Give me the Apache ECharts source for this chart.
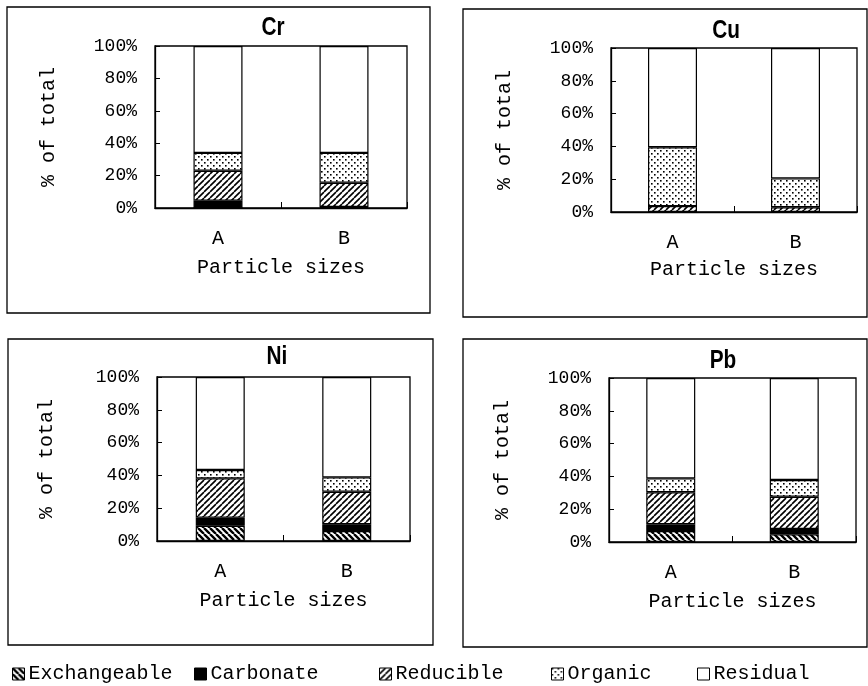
<!DOCTYPE html>
<html>
<head>
<meta charset="utf-8">
<script src="https://cdn.jsdelivr.net/npm/echarts@6/dist/echarts.min.js"></script>
<style>
html,body{margin:0;padding:0;background:#fff;}
#chart{width:868px;height:686px;}
</style>
</head>
<body>
<div id="chart"></div>
<script>
// ---------- data ----------
const categories = ['A', 'B'];
const fractionNames = ['Exchangeable', 'Carbonate', 'Reducible', 'Organic', 'Residual'];
const yTicks = [0, 20, 40, 60, 80, 100];
const panelTitles = ['Cr', 'Cu', 'Ni', 'Pb'];

const crExchangeable = [0, 0];
const crCarbonate    = [4.5, 0.6];
const crReducible    = [18.5, 15.0];
const crOrganic      = [11.0, 18.4];
const crResidual     = [66.0, 66.0];

const cuExchangeable = [0, 0];
const cuCarbonate    = [0, 0];
const cuReducible    = [3.6, 2.9];
const cuOrganic      = [35.9, 17.6];
const cuResidual     = [60.5, 79.5];

const niExchangeable = [9.3, 6.1];
const niCarbonate    = [4.9, 4.1];
const niReducible    = [24.0, 19.8];
const niOrganic      = [5.1, 8.8];
const niResidual     = [56.7, 61.2];

const pbExchangeable = [6.7, 4.7];
const pbCarbonate    = [4.1, 3.2];
const pbReducible    = [19.5, 19.7];
const pbOrganic      = [8.5, 10.2];
const pbResidual     = [61.2, 62.2];

const panelData = [
  [crExchangeable, crCarbonate, crReducible, crOrganic, crResidual],
  [cuExchangeable, cuCarbonate, cuReducible, cuOrganic, cuResidual],
  [niExchangeable, niCarbonate, niReducible, niOrganic, niResidual],
  [pbExchangeable, pbCarbonate, pbReducible, pbOrganic, pbResidual]
];

// ---------- layout ----------
const grids = [
  {left: 155, top: 46, width: 252, height: 162},
  {left: 611, top: 48, width: 246, height: 164},
  {left: 157, top: 377, width: 253, height: 164},
  {left: 609, top: 378, width: 247, height: 164}
];
const yNameGaps = [96, 96, 100, 96];
const xNameGaps = [50, 48, 50, 50];
const titlePos = [[273, 28], [726, 31], [277, 357], [723, 361]];
const boxes = [
  [7, 7, 423, 306],
  [463, 9, 404, 308],
  [8, 339, 425, 306],
  [463, 339, 404, 308]
];
const legendLefts = [12, 194, 379, 551, 697];

// ---------- patterns ----------
function stripes(dir, size, lw) {
  const c = document.createElement('canvas');
  c.width = size; c.height = size;
  const g = c.getContext('2d');
  g.fillStyle = '#fff'; g.fillRect(0, 0, size, size);
  g.strokeStyle = '#000'; g.lineWidth = lw;
  g.beginPath();
  for (let k = -1; k <= 1; k++) {
    if (dir === '/') { g.moveTo(k * size, size); g.lineTo(k * size + size, 0); }
    else { g.moveTo(k * size, 0); g.lineTo(k * size + size, size); }
  }
  g.stroke();
  return {image: c, repeat: 'repeat'};
}
function dots() {
  const c = document.createElement('canvas');
  c.width = 6; c.height = 6;
  const g = c.getContext('2d');
  g.fillStyle = '#fff'; g.fillRect(0, 0, 6, 6);
  g.fillStyle = '#000';
  g.fillRect(0, 0, 1.6, 1.6);
  g.fillRect(3, 3, 1.6, 1.6);
  return {image: c, repeat: 'repeat'};
}
const fills = [stripes('\\', 6, 2.4), '#000', stripes('/', 6, 1.6), dots(), '#fff'];

// ---------- option ----------
const axisFont = '"Liberation Mono", "DejaVu Sans Mono", monospace';
const xAxes = [], yAxes = [], series = [], graphics = [], legends = [];

grids.forEach((g, i) => {
  xAxes.push({
    type: 'category', gridIndex: i, data: categories,
    axisLine: {lineStyle: {color: '#000', width: 1.3}},
    axisTick: {show: true, inside: true, length: 6, alignWithLabel: false, lineStyle: {color: '#000'}},
    axisLabel: {margin: 21, color: '#000', fontFamily: axisFont, fontSize: 20},
    name: 'Particle sizes', nameLocation: 'middle', nameGap: xNameGaps[i],
    nameTextStyle: {color: '#000', fontFamily: axisFont, fontSize: 20},
    splitLine: {show: false}
  });
  yAxes.push({
    type: 'value', gridIndex: i, min: 0, max: 100, interval: 20,
    axisLine: {show: true, lineStyle: {color: '#000', width: 1.3}},
    axisTick: {show: true, inside: true, length: 5, lineStyle: {color: '#000'}},
    axisLabel: {margin: 18, color: '#000', fontFamily: axisFont, fontSize: 18, formatter: '{value}%'},
    splitLine: {show: false},
    name: '% of total', nameLocation: 'middle', nameGap: yNameGaps[i],
    nameTextStyle: {color: '#000', fontFamily: axisFont, fontSize: 20}
  });
  panelData[i].forEach((vals, k) => {
    series.push({
      type: 'bar', name: fractionNames[k], xAxisIndex: i, yAxisIndex: i,
      stack: 'panel' + i, data: vals, barWidth: 49,
      itemStyle: {color: fills[k], borderColor: '#000', borderWidth: 1.2},
      emphasis: {disabled: true}
    });
  });
  graphics.push({
    type: 'rect', shape: {x: boxes[i][0], y: boxes[i][1], width: boxes[i][2], height: boxes[i][3]},
    style: {fill: 'none', stroke: '#000', lineWidth: 1.3}, silent: true, z: 0
  });
  graphics.push({
    type: 'text', x: titlePos[i][0], y: titlePos[i][1], scaleX: 0.8,
    style: {text: panelTitles[i], x: 0, y: 0, align: 'center', verticalAlign: 'middle',
            font: 'bold 26px "Liberation Sans", Arial, sans-serif', fill: '#000'}
  });
});

fractionNames.forEach((n, k) => {
  legends.push({
    data: [n], left: legendLefts[k], top: 664, icon: 'rect',
    itemWidth: 12, itemHeight: 12, itemGap: 0, padding: 0,
    selectedMode: false,
    itemStyle: {borderColor: '#000', borderWidth: 1},
    textStyle: {color: '#000', fontFamily: axisFont, fontSize: 20, padding: [0, 0, 0, -1]}
  });
});

const option = {
  animation: false,
  backgroundColor: '#fff',
  grid: grids.map(g => Object.assign({show: true, borderColor: '#000', borderWidth: 1.3, backgroundColor: '#fff'}, g)),
  xAxis: xAxes,
  yAxis: yAxes,
  series: series,
  legend: legends,
  graphic: graphics
};

const chart = echarts.init(document.getElementById('chart'), null, {renderer: 'canvas'});
chart.setOption(option);
</script>
</body>
</html>
